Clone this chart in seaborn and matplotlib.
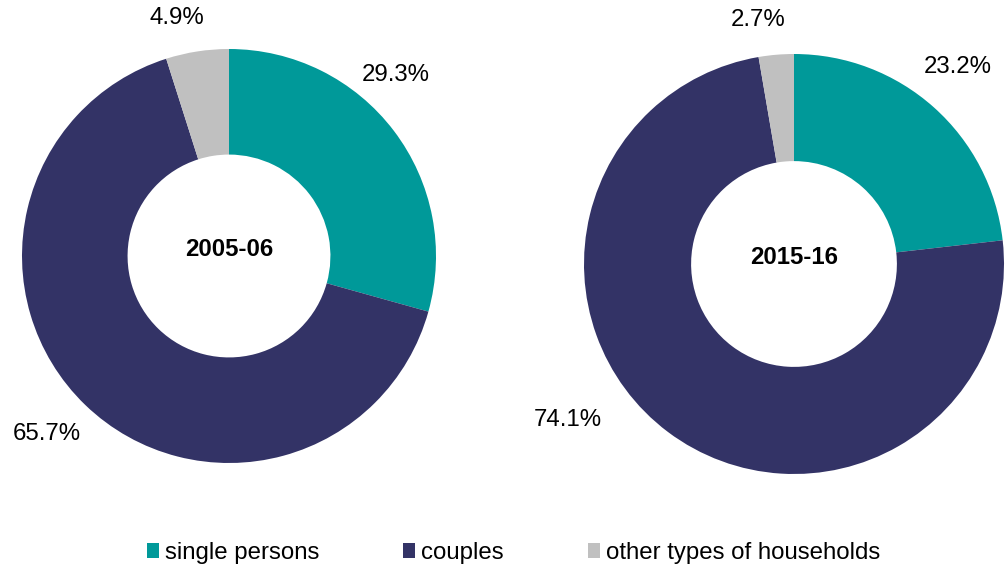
import matplotlib
matplotlib.use('Agg')
import matplotlib.pyplot as plt
from matplotlib.patches import Patch
import seaborn as sns

# household types, share of total
categories = ['single persons', 'couples', 'other types of households']
years = ['2005-06', '2015-16']
share_0506 = [29.3, 65.7, 4.9]
share_1516 = [23.2, 74.1, 2.7]

colors = ['#009999', '#333366', '#C0C0C0']

sns.set_style('white')
plt.rcParams['font.family'] = ['Liberation Sans', 'DejaVu Sans']
plt.rcParams['text.color'] = 'black'

W, H = 1005, 572
fig = plt.figure(figsize=(W / 100, H / 100), dpi=100)


def px_box(x0, y0, x1, y1):
    return [x0 / W, 1 - y1 / H, (x1 - x0) / W, (y1 - y0) / H]


# donut boxes (pixels) and label anchors (pixels) in category order
boxes = [(22, 49, 436, 463), (584, 54, 1004, 474)]
label_pos = [
    [(396, 75), (47, 434), (177, 18)],
    [(958, 67), (568, 420), (758, 20)],
]

for i, vals in enumerate([share_0506, share_1516]):
    ax = fig.add_axes(px_box(*boxes[i]))
    ax.pie(vals, colors=colors, startangle=90, counterclock=False,
           radius=1, wedgeprops=dict(width=0.51, linewidth=0))
    ax.set_xlim(-1, 1)
    ax.set_ylim(-1, 1)
    ax.set_aspect('equal')
    ax.axis('off')
    ax.text(0, 0.03, years[i], ha='center', va='center',
            fontsize=17.3, fontweight='bold', color='black')
    for v, (lx, ly) in zip(vals, label_pos[i]):
        fig.text(lx / W, 1 - ly / H, f'{v:.1f}%', ha='center', va='center',
                 fontsize=17.3, color='black')

handles = [Patch(facecolor=c, edgecolor='none') for c in colors]
fig.legend(handles, categories, loc='center', bbox_to_anchor=(0.511, 1 - 553 / H),
           ncol=3, frameon=False, fontsize=17.3, handlelength=0.5, handleheight=0.6,
           handletextpad=0.25, columnspacing=3.5, labelcolor='black')

fig.savefig('out.png', dpi=100)
